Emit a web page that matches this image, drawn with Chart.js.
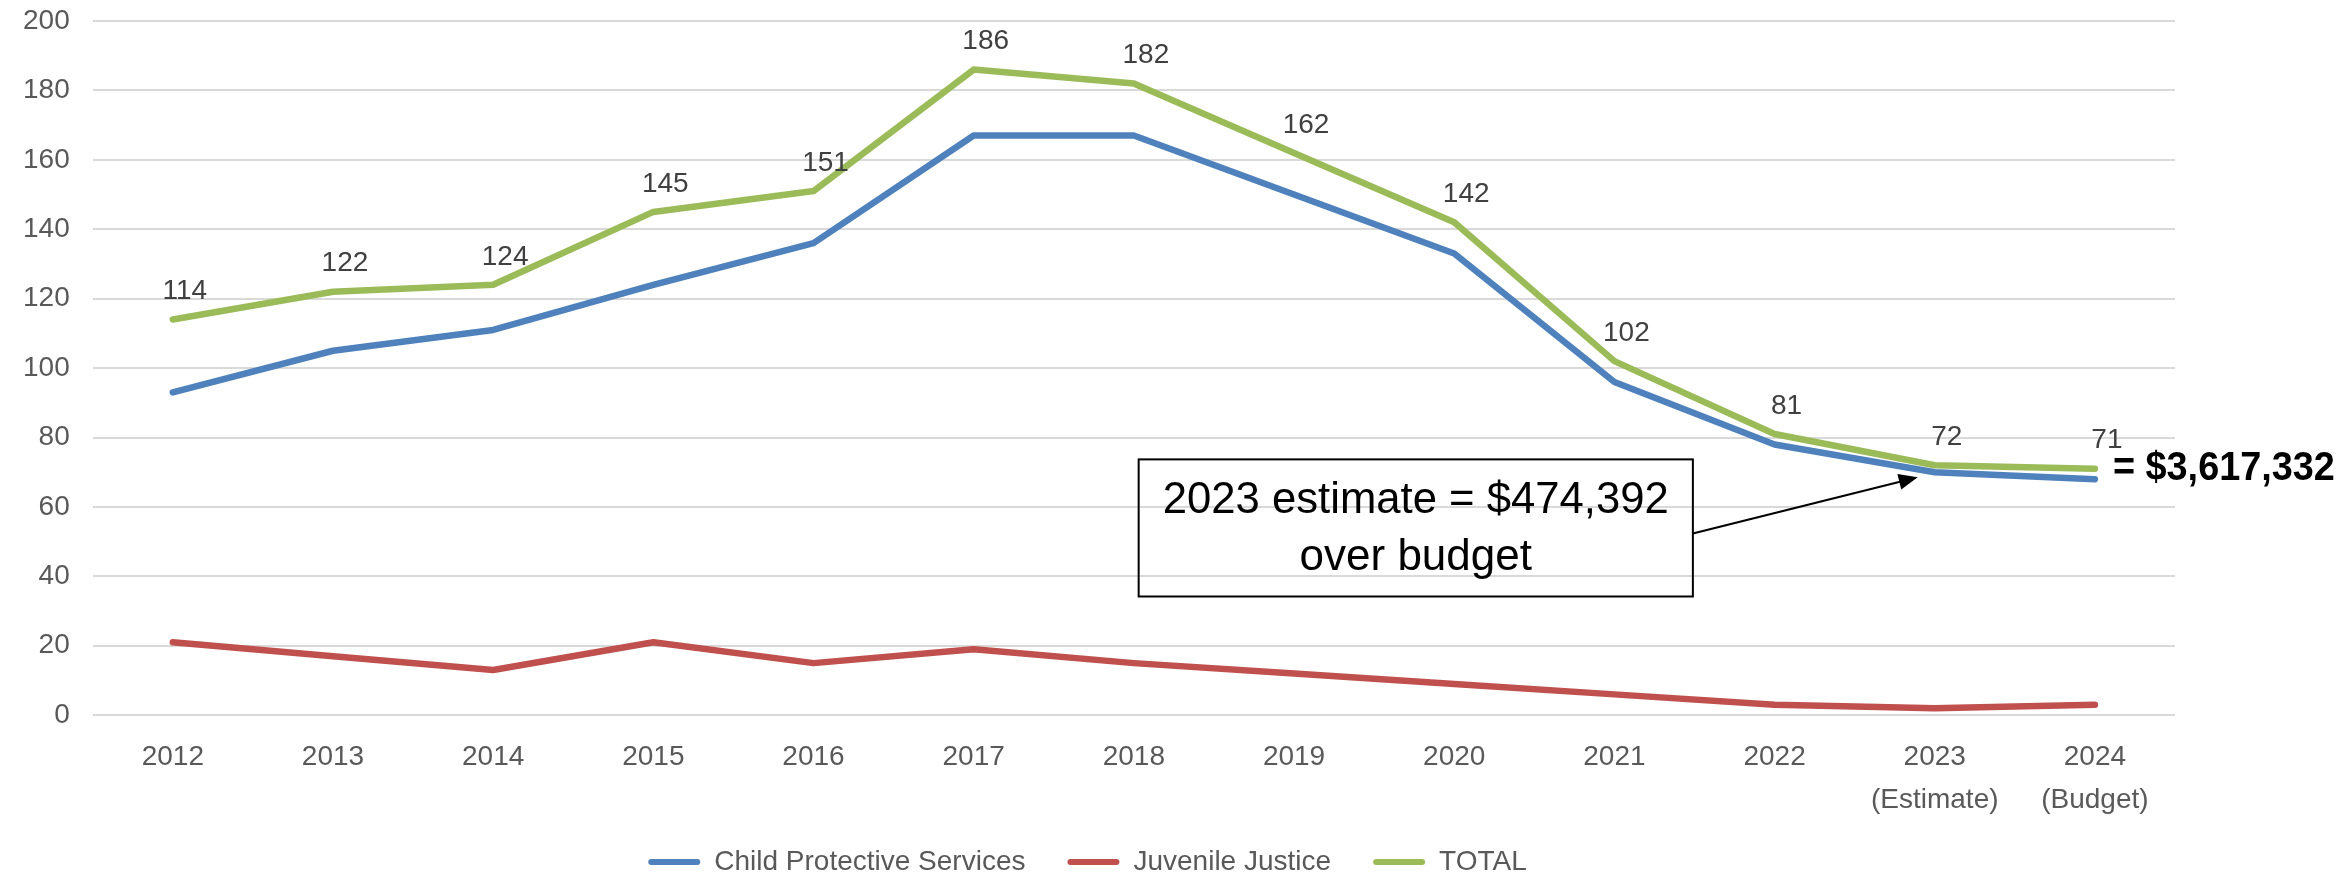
<!DOCTYPE html>
<html>
<head>
<meta charset="utf-8">
<script src="https://cdn.jsdelivr.net/npm/chart.js@4.4.1/dist/chart.umd.min.js"></script>
<style>
  html, body { margin: 0; padding: 0; background: #fff; }
  #wrap { width: 2351px; height: 874px; }
</style>
</head>
<body>
<div id="wrap"><canvas id="chart" width="2351" height="874"></canvas></div>
<script>
const years = ["2012", "2013", "2014", "2015", "2016", "2017", "2018", "2019", "2020", "2021", "2022",
  ["2023", "(Estimate)"], ["2024", "(Budget)"]];
const childProtective = [93, 105, 111, 124, 136, 167, 167, 150, 133, 96, 78, 70, 68];
const juvenileJustice = [21, 17, 13, 21, 15, 19, 15, 12, 9, 6, 3, 2, 3];
const total = [114, 122, 124, 145, 151, 186, 182, 162, 142, 102, 81, 72, 71];
const noteLines = ["2023 estimate = $474,392", "over budget"];
const budgetTotal = "= $3,617,332";

const FONT = '"Liberation Sans", Arial, sans-serif';

// value labels above the TOTAL line
const totalLabels = {
  id: "totalLabels",
  beforeDraw(chart) {
    // the x axis box is squeezed in afterFit, so don't clip its two-line labels
    chart.scales.x._computeLabelArea = () => undefined;
  },
  afterDatasetsDraw(chart) {
    const ctx = chart.ctx;
    const meta = chart.getDatasetMeta(2);
    ctx.save();
    ctx.font = "28px " + FONT;
    ctx.fillStyle = "#404040";
    ctx.textAlign = "center";
    ctx.textBaseline = "middle";
    meta.data.forEach((pt, i) => ctx.fillText(String(total[i]), pt.x + 12, pt.y - 28));
    ctx.restore();
  }
};

// call-out box, arrow and the budget figure on the right
const budgetNotes = {
  id: "budgetNotes",
  afterDraw(chart) {
    const { ctx, scales: { x, y } } = chart;
    const left = x.getPixelForValue(6.03);
    const right = x.getPixelForValue(9.49);
    const top = y.getPixelForValue(73.7);
    const bottom = y.getPixelForValue(34.2);
    ctx.save();
    ctx.strokeStyle = "#000";
    ctx.lineWidth = 2;
    ctx.strokeRect(left, top, right - left, bottom - top);

    ctx.fillStyle = "#000";
    ctx.font = "44px " + FONT;
    ctx.textAlign = "center";
    ctx.textBaseline = "middle";
    const cx = (left + right) / 2;
    ctx.fillText(noteLines[0], cx, top + 41, 506);
    ctx.fillText(noteLines[1], cx, top + 98, 506);

    // arrow to the 2023 estimate
    const sx = right, sy = top + (bottom - top) * 0.54;
    const tx = x.getPixelForValue(11) - 17, ty = y.getPixelForValue(childProtective[11]) + 5;
    const ang = Math.atan2(ty - sy, tx - sx);
    const head = 19, half = 8;
    ctx.beginPath();
    ctx.moveTo(sx, sy);
    ctx.lineTo(tx - Math.cos(ang) * head * 0.8, ty - Math.sin(ang) * head * 0.8);
    ctx.stroke();
    ctx.beginPath();
    ctx.moveTo(tx, ty);
    ctx.lineTo(tx - head * Math.cos(ang) + half * Math.sin(ang), ty - head * Math.sin(ang) - half * Math.cos(ang));
    ctx.lineTo(tx - head * Math.cos(ang) - half * Math.sin(ang), ty - head * Math.sin(ang) + half * Math.cos(ang));
    ctx.closePath();
    ctx.fill();

    const last = chart.getDatasetMeta(2).data[total.length - 1];
    ctx.font = "bold 40px " + FONT;
    ctx.textAlign = "left";
    ctx.fillText(budgetTotal, last.x + 18, last.y, 222);
    ctx.restore();
  }
};

const line = (label, data, color) => ({
  label, data,
  borderColor: color,
  backgroundColor: color,
  borderWidth: 6.5,
  borderCapStyle: "round",
  borderJoinStyle: "round",
  pointRadius: 0,
  tension: 0
});

new Chart(document.getElementById("chart"), {
  type: "line",
  data: {
    labels: years,
    datasets: [
      line("Child Protective Services", childProtective, "#4F81BD"),
      line("Juvenile Justice", juvenileJustice, "#C0504D"),
      line("TOTAL", total, "#9BBB59")
    ]
  },
  options: {
    responsive: false,
    animation: false,
    devicePixelRatio: 1,
    layout: { padding: { top: 21, left: 0, right: 176, bottom: -12 } },
    scales: {
      x: {
        offset: true,
        grid: { display: false, drawTicks: false },
        border: { display: false },
        ticks: { color: "#595959", font: { size: 28, family: FONT, lineHeight: 1.55 }, padding: 20, maxRotation: 0, autoSkip: false },
        afterFit(scale) { scale.height -= 36; }
      },
      y: {
        min: 0, max: 200,
        grid: { color: "#D9D9D9", lineWidth: 2, drawTicks: false },
        border: { display: false },
        ticks: { stepSize: 20, color: "#595959", font: { size: 28, family: FONT }, padding: 23 },
        afterFit(scale) { scale.paddingTop = 0; scale.paddingBottom = 0; }
      }
    },
    plugins: {
      tooltip: { enabled: false },
      legend: {
        position: "bottom",
        labels: {
          color: "#595959",
          font: { size: 28, family: FONT },
          boxWidth: 52,
          boxHeight: 6,
          padding: 42,
          generateLabels(chart) {
            return Chart.defaults.plugins.legend.labels.generateLabels(chart)
              .map(l => ({ ...l, lineWidth: 0, fillStyle: l.strokeStyle, borderRadius: 3 }));
          }
        }
      }
    }
  },
  plugins: [totalLabels, budgetNotes]
});
</script>
</body>
</html>
